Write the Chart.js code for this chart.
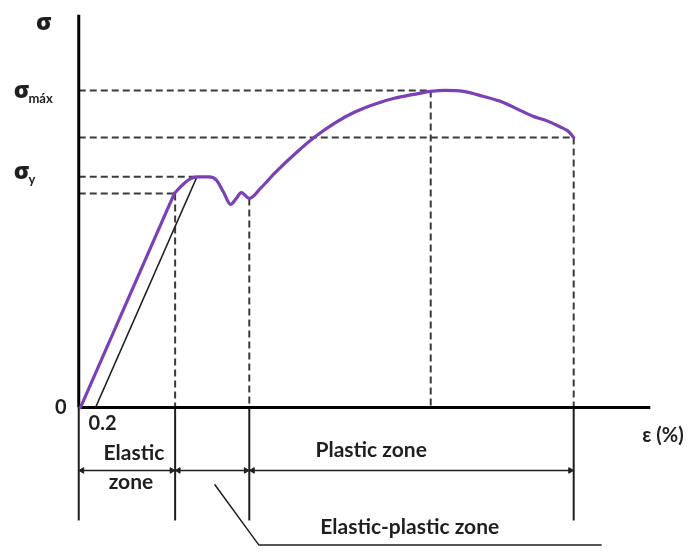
<!DOCTYPE html>
<html>
<head>
<meta charset="utf-8">
<script src="https://cdn.jsdelivr.net/npm/chart.js@4.4.1/dist/chart.umd.min.js"></script>
<style>
  html, body { margin: 0; padding: 0; background: #fff; overflow: hidden; }
  canvas { display: block; }
</style>
</head>
<body>
<canvas id="c" width="693" height="554"></canvas>
<script>
// Stress–strain curve of a ductile steel (strain in %, stress in relative units)
const strain = [0.02, 1.14, 1.24, 1.33, 1.41, 1.55, 1.64, 1.73, 1.81, 1.88, 1.94, 2.035,
                2.176, 2.353, 2.588, 2.824, 3.059, 3.294, 3.529, 3.765, 4.0, 4.2, 4.376, 4.588,
                4.824, 5.059, 5.235, 5.412, 5.588, 5.741, 5.847, 5.906];
const stress = [0, 54.5, 56.75, 58.25, 58.75, 58.75, 58.0, 54.75, 51.75, 53.25, 54.75, 53.25,
                56.0, 60.0, 64.75, 69.0, 72.5, 75.25, 77.25, 78.75, 79.75, 80.5, 80.75, 80.5,
                79.25, 77.75, 76.0, 74.25, 73.0, 71.5, 70.25, 68.75];

// Characteristic points of the curve
const offsetStrain = 0.2;                       // 0.2 % offset line
const upperYield   = { e: 1.41, s: 58.75 };     // σy
const lowerYield   = { e: 1.14, s: 54.5 };      // end of the linear part
const plateauEnd   = { e: 2.035, s: 53.25 };    // end of the yield plateau
const ultimate     = { e: 4.20, s: 80.75 };     // σmáx
const fracture     = { e: 5.906, s: 68.75 };    // rupture

// Axis extents and the zone brackets under the strain axis
const strainAxisEnd = 6.82;
const stressAxisEnd = 100;
const zoneEdges  = [0, 1.15, 2.035, 5.906];
const zoneDepth  = -28.75;
const arrowLevel = -16;
const leader     = [{ x: 1.62, y: -19.5 }, { x: 2.15, y: -35 }, { x: 6.24, y: -35 }];

const tickLabels = ['0', '0.2'];
const zoneLabels = ['Elastic', 'zone', 'Plastic zone', 'Elastic-plastic zone'];
const axisLabels = ['σ', 'ε (%)'];

const curve = strain.map((e, i) => ({ x: e, y: stress[i] }));

const INK = '#1f1f1f';
const DASH = '#3a3a3a';
const PURPLE = '#7b3fb6';

function seg(points, extra) {
  return Object.assign({
    data: points,
    borderColor: INK,
    borderWidth: 2,
    pointRadius: 0,
    fill: false,
    tension: 0
  }, extra || {});
}
function dashed(points) {
  return seg(points, { borderColor: DASH, borderDash: [7, 4], borderWidth: 2, order: 5 });
}
function arrow(a, b) {
  return seg([{ x: a, y: arrowLevel }, { x: b, y: arrowLevel }], {
    borderWidth: 1.5,
    pointRadius: 3.2,
    pointStyle: 'triangle',
    pointRotation: [-90, 90],
    pointBackgroundColor: INK,
    pointBorderColor: INK,
    pointBorderWidth: 1,
    order: 3
  });
}

const datasets = [
  // linear elastic part of the curve
  seg(curve.slice(0, 2), { borderColor: PURPLE, borderWidth: 3.2, borderCapStyle: 'round', order: 0 }),
  // yield and hardening part
  seg(curve.slice(1), { borderColor: PURPLE, borderWidth: 3.2, borderCapStyle: 'round',
                        cubicInterpolationMode: 'monotone', order: 0 }),
  // 0.2 % offset line
  seg([{ x: offsetStrain, y: 0 }, { x: upperYield.e, y: upperYield.s }], { borderWidth: 1.5, order: 1 }),
  // axes
  seg([{ x: 0, y: 0 }, { x: strainAxisEnd, y: 0 }], { borderColor: '#000', borderWidth: 3, order: 2 }),
  seg([{ x: 0, y: 0 }, { x: 0, y: stressAxisEnd }], { borderColor: '#000', borderWidth: 3, order: 2 }),
  // horizontal guide lines
  dashed([{ x: 0, y: ultimate.s }, { x: ultimate.e, y: ultimate.s }]),
  dashed([{ x: 0, y: fracture.s }, { x: fracture.e, y: fracture.s }]),
  dashed([{ x: 0, y: upperYield.s }, { x: upperYield.e, y: upperYield.s }]),
  dashed([{ x: 0, y: lowerYield.s }, { x: lowerYield.e, y: lowerYield.s }]),
  // vertical guide lines
  dashed([{ x: zoneEdges[1], y: lowerYield.s }, { x: zoneEdges[1], y: 0 }]),
  dashed([{ x: plateauEnd.e, y: plateauEnd.s }, { x: plateauEnd.e, y: 0 }]),
  dashed([{ x: ultimate.e, y: ultimate.s }, { x: ultimate.e, y: 0 }]),
  dashed([{ x: fracture.e, y: fracture.s }, { x: fracture.e, y: 0 }]),
  // zone brackets
  ...zoneEdges.map(e => seg([{ x: e, y: 0 }, { x: e, y: zoneDepth }], { borderWidth: 2, order: 4 })),
  arrow(zoneEdges[0] + 0.04, zoneEdges[1] - 0.04),
  arrow(zoneEdges[1] + 0.04, zoneEdges[2] - 0.04),
  arrow(zoneEdges[2] + 0.04, zoneEdges[3] - 0.04),
  // leader to the elastic-plastic label
  seg(leader, { borderWidth: 1.5, order: 4 })
];

const FONT = "Lato, 'Open Sans', 'DejaVu Sans', sans-serif";
const GREEK = "'Open Sans', 'DejaVu Sans', sans-serif";

const labelsPlugin = {
  id: 'labels',
  afterDatasetsDraw(chart) {
    const { ctx } = chart;
    const X = v => chart.scales.x.getPixelForValue(v);
    const Y = v => chart.scales.y.getPixelForValue(v);
    const x0 = X(0), y0 = Y(0);
    ctx.save();
    ctx.fillStyle = INK;
    ctx.textBaseline = 'middle';

    const text = (t, x, y, size, align, family, weight) => {
      ctx.font = (weight || 'bold') + ' ' + size + 'px ' + (family || FONT);
      ctx.textAlign = align || 'center';
      ctx.fillText(t, x, y);
      return ctx.measureText(t).width;
    };
    // σ with a subscript placed right after it
    const sigma = (sub, x, y) => {
      const w = text('σ', x, y, 23, 'left', GREEK, '800');
      text(sub, x + w - 1, y + 7, 13, 'left', FONT, 'bold');
    };

    // stress axis symbols
    text(axisLabels[0], x0 - 35, Y(stressAxisEnd) + 9, 23, 'center', GREEK, '800');
    sigma('máx', x0 - 65, Y(ultimate.s) + 1);
    sigma('y', x0 - 65, Y(upperYield.s) - 4);

    // origin and offset
    text(tickLabels[0], x0 - 18, y0, 20);
    text(tickLabels[1], X(offsetStrain) + 7, y0 + 16, 20);

    // strain axis label
    text(axisLabels[1], X(strainAxisEnd) - 8, y0 + 28, 20, 'left');

    // zone names
    text(zoneLabels[0], (x0 + X(zoneEdges[1])) / 2 + 7, Y(arrowLevel) - 17, 21);
    text(zoneLabels[1], (x0 + X(zoneEdges[1])) / 2 + 4, Y(arrowLevel) + 12, 21);
    text(zoneLabels[2], X(3.49), Y(arrowLevel) - 20, 21);
    text(zoneLabels[3], X(3.95), Y(leader[1].y) - 18, 21);

    ctx.restore();
  }
};

new Chart(document.getElementById('c'), {
  type: 'line',
  data: { datasets },
  options: {
    responsive: false,
    animation: false,
    devicePixelRatio: 1,
    layout: { padding: 0 },
    plugins: { legend: { display: false }, tooltip: { enabled: false } },
    events: [],
    scales: {
      x: { type: 'linear', display: false, min: -0.88, max: 7.27 },
      y: { type: 'linear', display: false, min: -36, max: 102.5 }
    }
  },
  plugins: [labelsPlugin]
});
</script>
</body>
</html>
